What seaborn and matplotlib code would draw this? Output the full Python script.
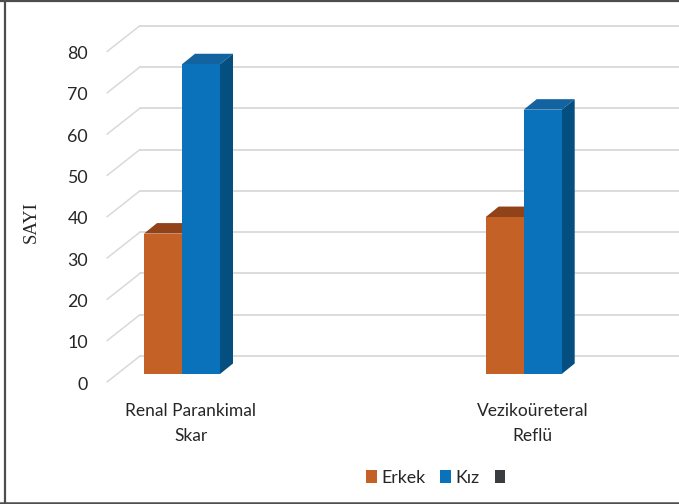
import matplotlib
matplotlib.use("Agg")
import matplotlib.pyplot as plt
import pandas as pd
import seaborn as sns
from matplotlib.patches import Polygon, Patch
from matplotlib.lines import Line2D
from matplotlib.transforms import IdentityTransform, ScaledTranslation

# ---- data ----
categories = ["Renal Parankimal\nSkar", "Vezikoüreteral\nReflü"]
series = ["Erkek", "Kız", "Seri 3"]
erkek = [34, 38]
kiz = [75, 64]
yticks = [0, 10, 20, 30, 40, 50, 60, 70, 80]

# ---- styling ----
front_colors = {"Erkek": "#C46127", "Kız": "#0A72BA", "Seri 3": "#3A3D40"}
top_colors = {"Erkek": "#924219", "Kız": "#1363A0"}
side_colors = {"Erkek": "#7A3714", "Kız": "#044F80"}
grid_color = "#D9D9D9"

sns.set_theme(style="white")
plt.rcParams["font.family"] = ["Lato", "DejaVu Sans"]

W, H = 679, 504
fig = plt.figure(figsize=(W / 100, H / 100), dpi=100)
fig.patch.set_facecolor("white")

# bar front plane, in pixels
plane_left, plane_right = 117.2, 700.0
plane_bottom, unit_px, ymax = 130.0, 4.13, 80
cat_step_px, first_center_px = 341.7, 201.0
ax = fig.add_axes([plane_left / W, plane_bottom / H,
                   (plane_right - plane_left) / W, unit_px * ymax / H])

df = pd.DataFrame({
    "kategori": categories * 2,
    "cinsiyet": ["Erkek"] * len(categories) + ["Kız"] * len(categories),
    "sayi": erkek + kiz,
})
sns.barplot(data=df, x="kategori", y="sayi", hue="cinsiyet", hue_order=series,
            palette=front_colors, width=0.3336, saturation=1, dodge=True,
            errorbar=None, legend=False, ax=ax, zorder=3, linewidth=0)

ax.set_xlim((plane_left - first_center_px) / cat_step_px,
            (plane_right - first_center_px) / cat_step_px)
ax.set_ylim(0, ymax)
ax.set_facecolor("none")
for s in ax.spines.values():
    s.set_visible(False)
ax.grid(False)

# depth vectors (pixels): floor front edge, back wall, bar depth
px = fig.dpi / 100
front_off = (-10.2 * px, -8.0 * px)
back_off = (22.8 * px, 18.0 * px)
bar_off = (13.0 * px, 10.5 * px)

# back wall gridlines and side-wall diagonals
x_left = ax.get_xlim()[0]
for v in yticks:
    X, Y = ax.transData.transform((x_left, v))
    ax.add_line(Line2D([X + back_off[0], W * px + 50], [Y + back_off[1]] * 2,
                       color=grid_color, lw=1.3, transform=IdentityTransform(),
                       clip_on=False, zorder=0.5))
    ax.add_line(Line2D([X + front_off[0], X + back_off[0]],
                       [Y + front_off[1], Y + back_off[1]],
                       color=grid_color, lw=1.1, transform=IdentityTransform(),
                       clip_on=False, zorder=0.5))

# tops and sides of the bars
bar_series = [series[i // len(categories)] for i in range(len(ax.patches))]
for p, name in zip(ax.patches, bar_series):
    h = p.get_height()
    if not h or h != h:
        continue
    x0, x1 = p.get_x(), p.get_x() + p.get_width()
    X0, Yh = ax.transData.transform((x0, h))
    X1, Y0 = ax.transData.transform((x1, 0))
    dx, dy = bar_off
    ax.add_patch(Polygon([(X0, Yh), (X1, Yh), (X1 + dx, Yh + dy), (X0 + dx, Yh + dy)],
                         closed=True, facecolor=top_colors[name], edgecolor="none",
                         transform=IdentityTransform(), clip_on=False, zorder=2.5))
    ax.add_patch(Polygon([(X1, Y0), (X1 + dx, Y0 + dy), (X1 + dx, Yh + dy), (X1, Yh)],
                         closed=True, facecolor=side_colors[name], edgecolor="none",
                         transform=IdentityTransform(), clip_on=False, zorder=2.5))

# axis labels on the front floor edge
ax.set_yticks(yticks)
ax.set_yticklabels([str(v) for v in yticks])
ax.tick_params(axis="y", length=0, pad=21, labelsize=12.8, labelcolor="#262626")
ax.tick_params(axis="x", length=0, pad=21, labelsize=12.5, labelcolor="#262626")
for lab in ax.get_yticklabels():
    lab.set_transform(lab.get_transform() + ScaledTranslation(0, -9 / 100, fig.dpi_scale_trans))
for lab in ax.get_xticklabels():
    lab.set_transform(lab.get_transform() + ScaledTranslation(-10.2 / 100, 0, fig.dpi_scale_trans))
    lab.set_linespacing(1.65)
ax.set_xlabel("")
ax.set_ylabel("SAYI", family=["Liberation Serif", "DejaVu Serif"], fontsize=13.5,
              color="#262626")
ax.yaxis.set_label_coords(40 / W, 1 - 222 / H, transform=fig.transFigure)

# legend
handles = [Patch(facecolor=front_colors[s], edgecolor="none") for s in series]
fig.legend(handles=handles, labels=["Erkek", "Kız", ""], loc="center",
           bbox_to_anchor=(438 / W, 1 - 478 / H), ncol=3, frameon=False,
           handlelength=0.6, handleheight=0.75, handletextpad=0.25,
           columnspacing=0.85, fontsize=12.8, labelcolor="#262626")

# chart frame
frame = "#4D4D4D"
fig.add_artist(Line2D([0, 1], [1 - 0.8 / H] * 2, color=frame, lw=1.6,
                      transform=fig.transFigure))
fig.add_artist(Line2D([0, 1], [1.5 / H] * 2, color=frame, lw=1.8,
                      transform=fig.transFigure))
fig.add_artist(Line2D([5 / W] * 2, [0, 1], color=frame, lw=1.6,
                      transform=fig.transFigure))

fig.savefig("out.png", dpi=100)
